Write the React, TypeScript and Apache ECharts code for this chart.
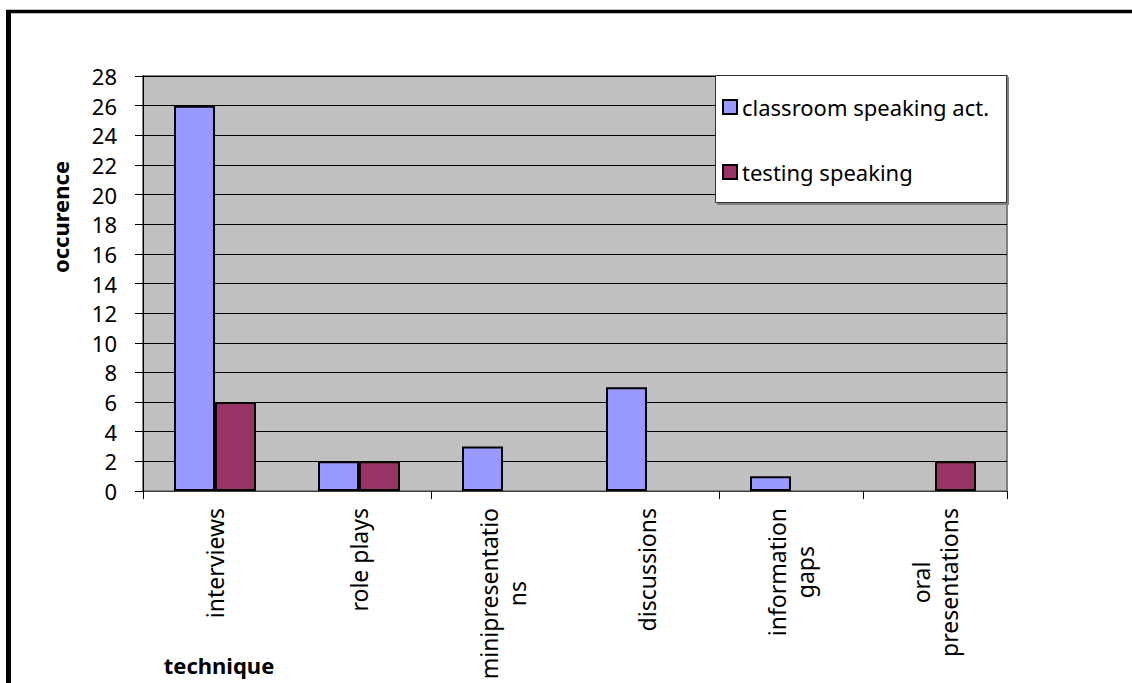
import React, { useEffect, useRef } from "react";
import * as echarts from "echarts";

const categories = [
  "interviews",
  "role plays",
  "minipresentatio\nns",
  "discussions",
  "information\ngaps",
  "oral\npresentations",
];
const classroomValues: (number | null)[] = [26, 2, 3, 7, 1, null];
const testingValues: (number | null)[] = [6, 2, null, null, null, 2];
const seriesNames = ["classroom speaking act.", "testing speaking"];
const yTicks = { min: 0, max: 28, interval: 2 };

const FONT = "'Noto Sans', sans-serif";

export default function App() {
  const ref = useRef<HTMLDivElement>(null);
  useEffect(() => {
    if (!ref.current) return;
    const chart = echarts.init(ref.current, undefined, { renderer: "svg" });
    chart.setOption({
      animation: false,
      textStyle: { fontFamily: FONT },
      grid: {
        left: 143,
        top: 76,
        right: 125,
        bottom: 192,
        show: true,
        backgroundColor: "#C0C0C0",
        borderColor: "#808080",
        borderWidth: 2,
      },
      legend: {
        orient: "vertical",
        left: 722,
        top: 95,
        z: 5,
        itemWidth: 14,
        itemHeight: 14,
        itemGap: 41,
        padding: 0,
        icon: "rect",
        textStyle: { fontSize: 22, color: "#000", lineHeight: 24, fontFamily: FONT },
        data: seriesNames,
      },
      xAxis: {
        type: "category",
        data: categories,
        axisLine: { show: true, lineStyle: { color: "#404040", width: 1 } },
        axisTick: { show: true, interval: 1, length: 8, lineStyle: { color: "#000" } },
        axisLabel: {
          interval: 0,
          rotate: 90,
          margin: 17,
          fontSize: 23,
          color: "#000",
          fontFamily: FONT,
          formatter: (v: string) =>
            v
              .split("\n")
              .map((s) => `{c|${s}}`)
              .join("\n"),
          rich: {
            c: { align: "center", fontSize: 23, lineHeight: 28, fontFamily: FONT, color: "#000" },
          },
        },
        splitLine: { show: false },
      },
      yAxis: {
        type: "value",
        min: yTicks.min,
        max: yTicks.max,
        interval: yTicks.interval,
        axisLine: { show: true, lineStyle: { color: "#000", width: 1 } },
        axisTick: { show: true, length: 8, lineStyle: { color: "#000" } },
        axisLabel: { margin: 26, fontSize: 22, color: "#000", fontFamily: FONT },
        splitLine: { show: true, lineStyle: { color: "#000", width: 1 } },
      },
      series: [
        {
          name: seriesNames[0],
          type: "bar",
          data: classroomValues,
          barWidth: 41,
          barGap: "0%",
          itemStyle: { color: "#9999FF", borderColor: "#000", borderWidth: 2 },
        },
        {
          name: seriesNames[1],
          type: "bar",
          data: testingValues,
          barWidth: 41,
          barGap: "0%",
          itemStyle: { color: "#993366", borderColor: "#000", borderWidth: 2 },
        },
      ],
      graphic: [
        {
          type: "rect",
          z: 3,
          shape: { x: 717, y: 77, width: 292, height: 128 },
          style: { fill: "#808080" },
        },
        {
          type: "rect",
          z: 4,
          shape: { x: 715.5, y: 75.5, width: 291, height: 127 },
          style: { fill: "#fff", stroke: "#333", lineWidth: 1 },
        },
        {
          type: "line",
          z: 10,
          shape: { x1: 8.5, y1: 10, x2: 8.5, y2: 683 },
          style: { stroke: "#000", lineWidth: 5 },
        },
        {
          type: "line",
          z: 10,
          shape: { x1: 6, y1: 11.5, x2: 1132, y2: 11.5 },
          style: { stroke: "#000", lineWidth: 3.5 },
        },
        {
          type: "text",
          z: 10,
          x: 60,
          y: 217,
          rotation: Math.PI / 2,
          style: {
            text: "occurence",
            fontSize: 22,
            fontWeight: "bold",
            fontFamily: FONT,
            fill: "#000",
            align: "center",
            verticalAlign: "middle",
          },
        },
        {
          type: "text",
          z: 10,
          x: 219,
          y: 665,
          style: {
            text: "technique",
            fontSize: 22,
            fontWeight: "bold",
            fontFamily: FONT,
            fill: "#000",
            align: "center",
            verticalAlign: "middle",
          },
        },
      ],
    });
    return () => chart.dispose();
  }, []);
  return (
    <div
      ref={ref}
      style={{ position: "absolute", left: 0, top: 0, width: 1132, height: 683, background: "#fff" }}
    />
  );
}
